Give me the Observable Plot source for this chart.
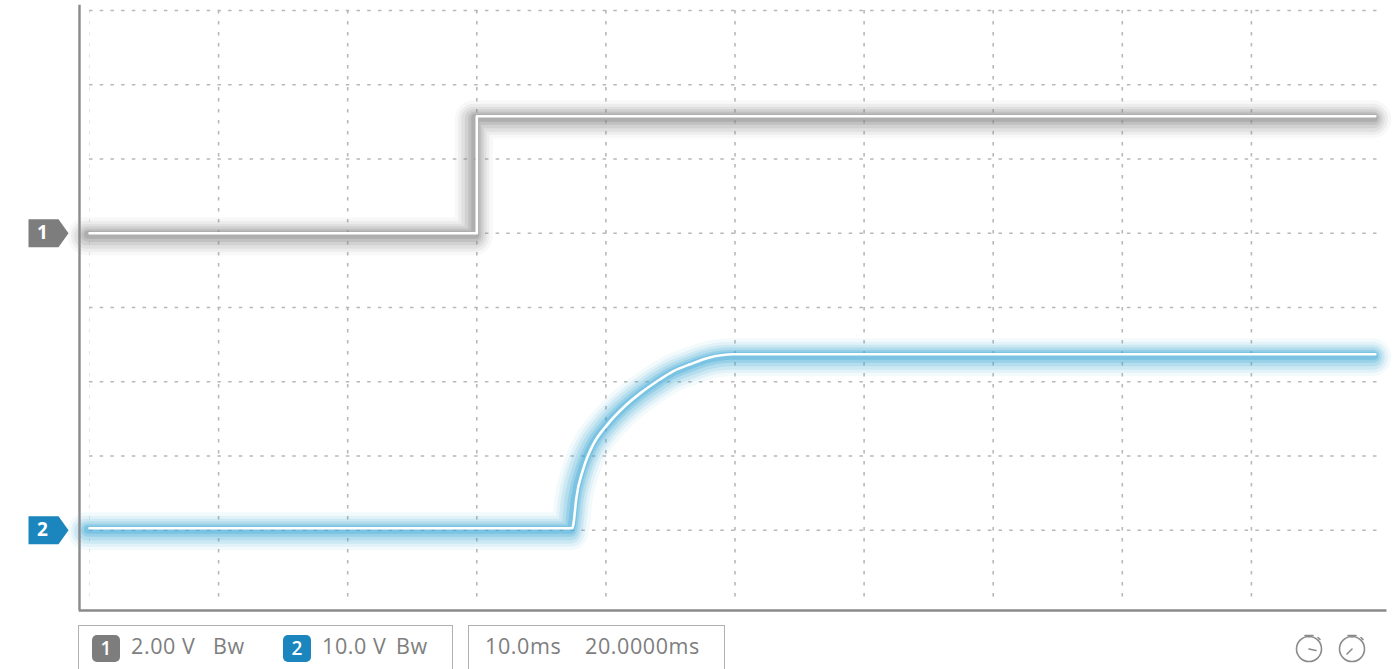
<!DOCTYPE html>
<html>
<head>
<meta charset="utf-8">
<script src="https://cdn.jsdelivr.net/npm/d3@7"></script>
<script src="https://cdn.jsdelivr.net/npm/@observablehq/plot@0.6"></script>
<style>
  html, body { margin: 0; padding: 0; background: #fff; }
  #wrap { position: relative; width: 1399px; height: 669px; overflow: hidden; font-family: "Open Sans", Lato, sans-serif; }
  #chart { position: absolute; left: 0; top: 0; }
  .box { position: absolute; top: 625px; height: 60px; border: 1.5px solid #b0b0b0; box-sizing: border-box; }
  .txt { position: absolute; top: 631px; font-size: 21.5px; letter-spacing: 0.6px; color: #7e7e7e; line-height: 30px; white-space: nowrap; }
  .badge { position: absolute; top: 635px; width: 28px; height: 27px; border-radius: 5px; color: #fff; font-size: 19px; font-weight: 600; text-align: center; line-height: 27px; }
  #icons { position: absolute; left: 1290px; top: 626px; }
</style>
</head>
<body>
<div id="wrap">
  <div id="chart"></div>
  <div id="legend"></div>
  <svg id="icons" width="90" height="40" viewBox="0 0 90 40">
    <g fill="none" stroke="#8c8c8c" stroke-width="1.6" stroke-linecap="round">
      <circle cx="19" cy="23" r="12.5"/>
      <path d="M15 9.5 h8 M19 9.5 v1.5 M28 11.5 l2 2"/>
      <path d="M19 23 l7 1.5"/>
      <circle cx="62" cy="23" r="12.5"/>
      <path d="M58 9.5 h8 M62 9.5 v1.5 M71 11.5 l2 2"/>
      <path d="M62 23 l-5 5"/>
    </g>
  </svg>
</div>
<script>
// ---- data ----
const channels = ["1", "2"];
const voltsPerDiv = [2, 10];          // V/div
const offsetDiv = [1, -3];            // ground marker position (divisions from centre)
const channelColors = ["#7d7d7d", "#1b85bd"];
const glowColors = ["#858585", "#35a5d4"];
const traceCurves = ["linear", "monotone-x"];

const ch1Time  = [0, 30, 30, 99.6];                        // ms
const ch1Volts = [0, 0, 3.15, 3.15];                       // V

const ch2Time  = [0, 37.4, 37.5, 37.7, 38.2, 38.6, 39.0, 40.1, 41.4, 42.7, 44.0, 45.2, 46.6, 47.9, 49.9, 75, 99.6];
const ch2Volts = [0.27, 0.27, 1.0, 4.2, 8.0, 10.0, 11.5, 14.2, 16.6, 18.5, 20.1, 21.4, 22.4, 23.2, 23.7, 23.7, 23.7];

const timeTicks = [0, 10, 20, 30, 40, 50, 60, 70, 80, 90];   // ms, 10 ms/div
const divTicks = [-3, -2, -1, 0, 1, 2, 3, 4];

const legendScale = ["2.00 V", "10.0 V"];
const legendBw = ["Bw", "Bw"];
const timebaseText = ["10.0ms", "20.0000ms"];

// ---- build tables ----
const traces = [
  ch1Time.map((t, i) => ({ ch: 0, t, div: ch1Volts[i] / voltsPerDiv[0] + offsetDiv[0] })),
  ch2Time.map((t, i) => ({ ch: 1, t, div: ch2Volts[i] / voltsPerDiv[1] + offsetDiv[1] }))
];
const markers = channels.map((c, i) => ({ label: c, div: offsetDiv[i], color: channelColors[i] }));

const pentagon = {
  draw(ctx) {
    ctx.moveTo(-20, -14); ctx.lineTo(10, -14); ctx.lineTo(20, 0);
    ctx.lineTo(10, 14); ctx.lineTo(-20, 14); ctx.closePath();
  }
};

const marks = [
  Plot.gridX(timeTicks.filter(t => t > 0), { stroke: "#b8b8b8", strokeOpacity: 1, strokeWidth: 1.6, strokeDasharray: "3.5,7.5" }),
  Plot.gridX([0], { stroke: "#e4e4e4", strokeOpacity: 1, strokeWidth: 1, strokeDasharray: "3.5,7.5" }),
  Plot.gridY(divTicks, { stroke: "#b8b8b8", strokeOpacity: 1, strokeWidth: 1.6, strokeDasharray: "3.5,7.2" }),
];
// soft glow built from stacked translucent strokes
const glowLayers = [
  { w: 38, o: 0.06, d: 3 },
  { w: 31, o: 0.09, d: 3 },
  { w: 25, o: 0.12, d: 3 },
  { w: 19, o: 0.16, d: 2.5 },
  { w: 13, o: 0.22, d: 2 },
  { w: 8,  o: 0.30, d: 1.5 }
];
traces.forEach((tr, i) => {
  glowLayers.forEach(g => {
    marks.push(Plot.line(tr, { x: "t", y: "div", curve: traceCurves[i], stroke: glowColors[i], strokeWidth: g.w, strokeOpacity: g.o, dx: -g.d, dy: g.d }));
  });
});
traces.forEach((tr, i) => {
  marks.push(Plot.line(tr, { x: "t", y: "div", curve: traceCurves[i], stroke: "#ffffff", strokeWidth: 2.6 }));
});
marks.push(
  Plot.ruleX([0], { dx: -10, y1: 4.07, y2: -4.08, stroke: "#8a8a8a", strokeWidth: 2.4 }),
  Plot.ruleY([-4.08], { x1: -0.8, x2: 100.5, stroke: "#8a8a8a", strokeWidth: 2.4 }),
  Plot.dot(markers, { x: () => 0, y: "div", dx: -41, symbol: pentagon, fill: "color", stroke: null, r: 10 }),
  Plot.text(markers, { x: () => 0, y: "div", dx: -47, text: "label", fill: "#ffffff", fontSize: 19, fontWeight: "bold", fontFamily: "Open Sans, sans-serif" })
);

const svg = Plot.plot({
  width: 1399,
  height: 616,
  marginLeft: 89,
  marginRight: 19,
  marginTop: 10,
  marginBottom: 12,
  x: { domain: [0, 100], axis: null },
  y: { domain: [-4, 4], axis: null },
  style: { background: "transparent", overflow: "visible" },
  marks
});

document.getElementById("chart").appendChild(svg);

// ---- legend below the plot ----
const legend = d3.select("#legend");
legend.append("div").attr("class", "box").style("left", "78px").style("width", "375px");
legend.append("div").attr("class", "box").style("left", "468px").style("width", "257px");
const badgeX = [92, 283], scaleX = [131, 322], bwX = [213, 396];
channels.forEach((c, i) => {
  legend.append("div").attr("class", "badge").style("left", badgeX[i] + "px").style("background", channelColors[i]).text(c);
  legend.append("div").attr("class", "txt").style("left", scaleX[i] + "px").text(legendScale[i]);
  legend.append("div").attr("class", "txt").style("left", bwX[i] + "px").text(legendBw[i]);
});
const tbX = [485, 585];
timebaseText.forEach((t, i) => {
  legend.append("div").attr("class", "txt").style("left", tbX[i] + "px").text(t);
});
</script>
</body>
</html>
